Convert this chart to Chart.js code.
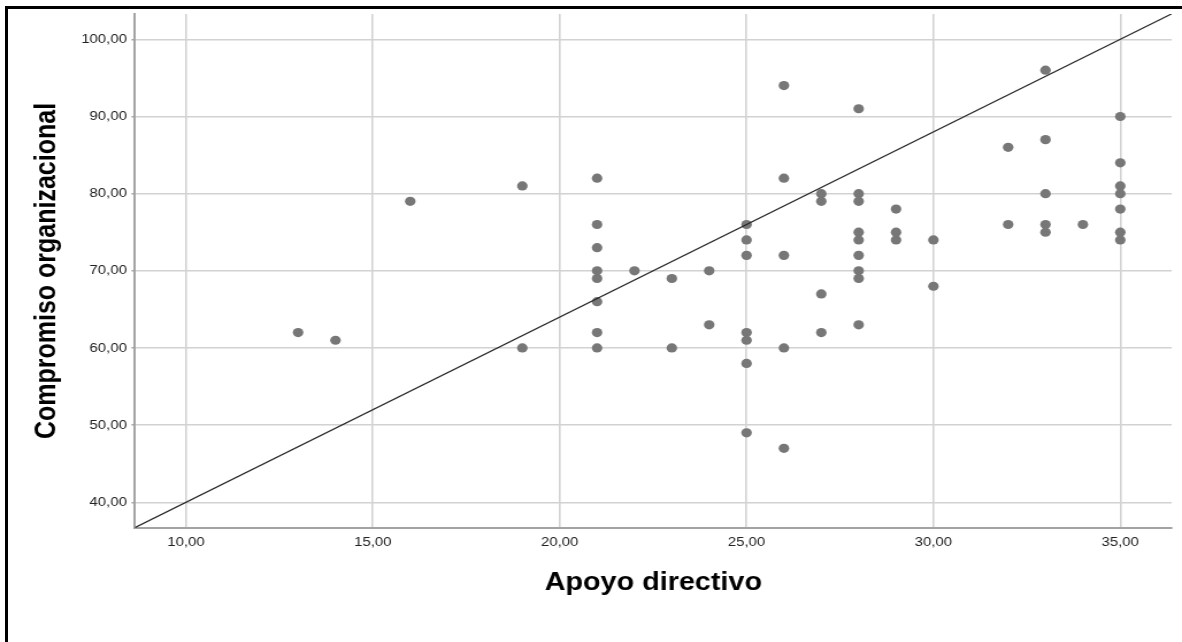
<!DOCTYPE html>
<html>
<head>
<meta charset="utf-8">
<script src="https://cdn.jsdelivr.net/npm/chart.js@4.4.1/dist/chart.umd.min.js"></script>
<style>
  html, body { margin: 0; padding: 0; background: #ffffff; overflow: hidden; width: 1182px; height: 642px; }
  #frame { position: absolute; left: 5px; top: 6px; width: 2000px; height: 2000px; border: 3px solid #000; }
  #wrap { position: absolute; left: 0; top: 0; width: 1028px; height: 642px; transform: scaleX(1.1498); transform-origin: 0 0; }
</style>
</head>
<body>
<div id="frame"></div>
<div id="wrap"><canvas id="c" width="1028" height="642"></canvas></div>
<script>
// ---- data ----
const xTicks = [10, 15, 20, 25, 30, 35];
const xTickLabels = ['10,00', '15,00', '20,00', '25,00', '30,00', '35,00'];
const yTicks = [40, 50, 60, 70, 80, 90, 100];
const yTickLabels = ['40,00', '50,00', '60,00', '70,00', '80,00', '90,00', '100,00'];
const xRange = [8.635, 36.375];
const yRange = [36.67, 103.28];

const apoyo = [
  13, 14,
  16,
  19, 19,
  21, 21, 21, 21, 21, 21, 21, 21,
  22,
  23, 23,
  24, 24,
  25, 25, 25, 25, 25, 25, 25,
  26, 26, 26, 26, 26,
  27, 27, 27, 27,
  28, 28, 28, 28, 28, 28, 28, 28, 28,
  29, 29, 29,
  30, 30,
  32, 32,
  33, 33, 33, 33, 33,
  34,
  35, 35, 35, 35, 35, 35, 35
];
const compromiso = [
  62, 61,
  79,
  81, 60,
  82, 76, 73, 70, 69, 66, 62, 60,
  70,
  69, 60,
  70, 63,
  76, 74, 72, 62, 61, 58, 49,
  94, 82, 72, 60, 47,
  80, 79, 67, 62,
  91, 80, 79, 75, 74, 72, 70, 69, 63,
  78, 75, 74,
  74, 68,
  86, 76,
  96, 87, 80, 76, 75,
  76,
  90, 84, 81, 80, 78, 75, 74
];

// reference line endpoints (read at the plot corners)
const lineX = [8.635, 36.375];
const lineY = [36.72, 103.3];

const FONT = "'Liberation Sans', Arial, Helvetica, sans-serif";

const points = apoyo.map((x, i) => ({ x: x, y: compromiso[i] }));
const linePts = lineX.map((x, i) => ({ x: x, y: lineY[i] }));

new Chart(document.getElementById('c'), {
  type: 'scatter',
  data: {
    datasets: [
      {
        type: 'line',
        data: linePts,
        borderColor: '#262626',
        borderWidth: 1.2,
        pointRadius: 0,
        fill: false,
        order: 0
      },
      {
        type: 'scatter',
        data: points,
        backgroundColor: '#777777',
        borderWidth: 0,
        pointRadius: 4.6,
        pointHoverRadius: 4.6,
        order: 1
      }
    ]
  },
  options: {
    responsive: false,
    animation: false,
    events: [],
    layout: { padding: { left: 0, top: 14, right: 9, bottom: 0 } },
    plugins: { legend: { display: false }, tooltip: { enabled: false } },
    scales: {
      x: {
        type: 'linear',
        min: xRange[0],
        max: xRange[1],
        afterBuildTicks: s => { s.ticks = xTicks.map(v => ({ value: v })); },
        afterFit: s => { s.height = 114; },
        ticks: {
          callback: v => xTickLabels[xTicks.indexOf(v)],
          font: { size: 13, family: FONT },
          color: '#222222',
          padding: 7,
          maxRotation: 0,
          autoSkip: false
        },
        grid: { color: '#d2d2d2', lineWidth: 1.6, drawTicks: false },
        border: { display: true, color: '#a3a3a3', width: 2 },
        title: {
          display: true,
          text: 'Apoyo directivo',
          font: { size: 25, weight: 'bold', family: FONT },
          color: '#000000',
          padding: { top: 0, bottom: 44 }
        }
      },
      y: {
        type: 'linear',
        min: yRange[0],
        max: yRange[1],
        afterBuildTicks: s => { s.ticks = yTicks.map(v => ({ value: v })); },
        afterFit: s => { s.width = 117.4; },
        ticks: {
          callback: v => yTickLabels[yTicks.indexOf(v)],
          font: { size: 13, family: FONT },
          color: '#222222',
          padding: 4
        },
        grid: { color: '#d2d2d2', lineWidth: 1.6, drawTicks: true, tickLength: 3, tickColor: '#a3a3a3' },
        border: { display: true, color: '#a3a3a3', width: 2 },
        title: {
          display: true,
          text: 'Compromiso organizacional',
          font: { size: 25, weight: 'bold', family: FONT },
          color: '#000000',
          padding: { top: 26, bottom: 0 }
        }
      }
    }
  }
});
</script>
</body>
</html>
